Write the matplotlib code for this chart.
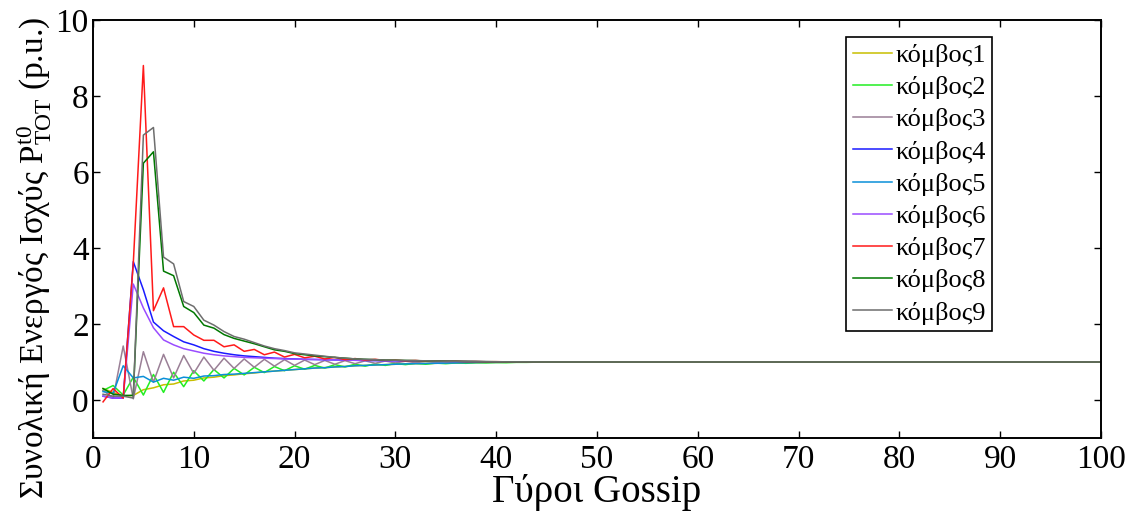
import matplotlib
matplotlib.use("Agg")
import matplotlib.pyplot as plt

plt.rcParams['font.family'] = ['Liberation Serif', 'DejaVu Serif']
plt.rcParams['mathtext.fontset'] = 'custom'
plt.rcParams['mathtext.rm'] = 'Liberation Serif'
plt.rcParams['mathtext.it'] = 'Liberation Serif'

# gossip rounds 1..100; values for the first 45 rounds,
# after that every node sits at 1.0 p.u.
rounds = list(range(1, 101))
tail = [1.0] * 55

node1 = [0.30, 0.20, 0.10, 0.12, 0.27, 0.32, 0.40, 0.42, 0.50, 0.52,
         0.58, 0.60, 0.64, 0.66, 0.69, 0.71, 0.74, 0.76, 0.78, 0.80,
         0.82, 0.84, 0.85, 0.87, 0.88, 0.90, 0.91, 0.92, 0.93, 0.94,
         0.95, 0.955, 0.96, 0.965, 0.97, 0.975, 0.98, 0.985, 0.99, 0.99,
         0.993, 0.995, 0.997, 0.998, 1.0] + tail
node2 = [0.25, 0.38, 0.13, 0.60, 0.13, 0.67, 0.20, 0.73, 0.35, 0.77,
         0.50, 0.80, 0.58, 0.83, 0.66, 0.86, 0.72, 0.88, 0.77, 0.90,
         0.81, 0.91, 0.84, 0.93, 0.87, 0.94, 0.89, 0.95, 0.91, 0.96,
         0.93, 0.965, 0.94, 0.97, 0.955, 0.975, 0.965, 0.98, 0.975, 0.985,
         0.98, 0.99, 0.99, 0.995, 0.995] + tail
node3 = [0.25, 0.05, 1.42, 0.03, 1.27, 0.47, 1.20, 0.58, 1.17, 0.70,
         1.13, 0.78, 1.10, 0.83, 1.08, 0.86, 1.07, 0.89, 1.06, 0.91,
         1.05, 0.93, 1.04, 0.94, 1.035, 0.955, 1.03, 0.965, 1.025, 0.975,
         1.02, 0.98, 1.015, 0.985, 1.01, 0.99, 1.008, 0.993, 1.005, 0.995,
         1.003, 0.997, 1.002, 0.998, 1.0] + tail
node4 = [0.10, 0.05, 0.05, 3.64, 2.90, 2.05, 1.82, 1.67, 1.53, 1.45,
         1.35, 1.28, 1.23, 1.19, 1.16, 1.14, 1.12, 1.10, 1.09, 1.08,
         1.07, 1.065, 1.06, 1.055, 1.05, 1.045, 1.04, 1.037, 1.034, 1.03,
         1.027, 1.024, 1.021, 1.018, 1.015, 1.012, 1.01, 1.008, 1.006, 1.005,
         1.004, 1.003, 1.002, 1.001, 1.0] + tail
node5 = [0.22, 0.18, 0.90, 0.58, 0.62, 0.47, 0.57, 0.52, 0.60, 0.57,
         0.63, 0.64, 0.67, 0.68, 0.70, 0.72, 0.74, 0.76, 0.78, 0.80,
         0.82, 0.84, 0.85, 0.87, 0.88, 0.90, 0.91, 0.92, 0.93, 0.94,
         0.95, 0.955, 0.96, 0.965, 0.97, 0.975, 0.98, 0.985, 0.99, 0.99,
         0.993, 0.995, 0.997, 0.998, 1.0] + tail
node6 = [0.10, 0.05, 0.05, 3.05, 2.42, 1.90, 1.58, 1.45, 1.35, 1.29,
         1.23, 1.19, 1.16, 1.14, 1.12, 1.11, 1.10, 1.09, 1.08, 1.075,
         1.07, 1.065, 1.06, 1.055, 1.05, 1.045, 1.04, 1.037, 1.034, 1.03,
         1.027, 1.024, 1.021, 1.018, 1.015, 1.012, 1.01, 1.008, 1.006, 1.005,
         1.004, 1.003, 1.002, 1.001, 1.0] + tail
node7 = [-0.05, 0.30, 0.05, 3.60, 8.80, 2.35, 2.95, 1.93, 1.93, 1.71,
         1.57, 1.57, 1.40, 1.45, 1.28, 1.33, 1.19, 1.26, 1.13, 1.20,
         1.11, 1.15, 1.08, 1.12, 1.06, 1.09, 1.05, 1.07, 1.04, 1.05,
         1.03, 1.04, 1.02, 1.03, 1.015, 1.02, 1.01, 1.012, 1.006, 1.008,
         1.004, 1.005, 1.002, 1.002, 1.0] + tail
node8 = [0.30, 0.15, 0.12, 0.12, 6.23, 6.53, 3.39, 3.27, 2.46, 2.30,
         1.97, 1.89, 1.72, 1.62, 1.55, 1.48, 1.40, 1.32, 1.28, 1.22,
         1.19, 1.16, 1.14, 1.12, 1.10, 1.08, 1.07, 1.06, 1.05, 1.045,
         1.04, 1.035, 1.03, 1.025, 1.02, 1.017, 1.014, 1.011, 1.008, 1.006,
         1.004, 1.003, 1.002, 1.001, 1.0] + tail
node9 = [0.15, 0.10, 0.10, 0.05, 6.97, 7.17, 3.76, 3.58, 2.59, 2.46,
         2.10, 1.97, 1.80, 1.67, 1.60, 1.51, 1.42, 1.35, 1.30, 1.24,
         1.21, 1.18, 1.15, 1.12, 1.10, 1.08, 1.07, 1.06, 1.05, 1.045,
         1.04, 1.035, 1.03, 1.025, 1.02, 1.017, 1.014, 1.011, 1.008, 1.006,
         1.004, 1.003, 1.002, 1.001, 1.0] + tail

series = [node1, node2, node3, node4, node5, node6, node7, node8, node9]
labels = ['κόμβος1', 'κόμβος2', 'κόμβος3', 'κόμβος4', 'κόμβος5',
          'κόμβος6', 'κόμβος7', 'κόμβος8', 'κόμβος9']
colors = ['#c8be00', '#22ee22', '#9a7f96', '#1a1aff', '#0a8fd8',
          '#9a4cff', '#ff1a1a', '#007800', '#6e6e6e']

fig = plt.figure(figsize=(11.31, 5.11), dpi=100)
ax = fig.add_axes([0.0822, 0.1429, 0.8913, 0.8181])

for vals, lab, col in zip(series, labels, colors):
    ax.plot(rounds, vals, color=col, lw=1.1, label=lab)

ax.set_xlim(0, 100)
ax.set_ylim(-1, 10)
ax.set_xticks(range(0, 101, 10))
ax.set_yticks(range(0, 11, 2))
ax.tick_params(direction='in', length=5, width=1, top=True, right=True,
               labelsize=24)
ax.tick_params(axis='x', pad=5)
ax.tick_params(axis='y', pad=3)
for sp in ax.spines.values():
    sp.set_linewidth(1.4)

ax.set_xlabel('Γύροι Gossip', fontsize=28)
ax.xaxis.set_label_coords(0.5, -0.085)
ax.set_ylabel(r'Συνολική Ενεργός Ισχύς $\mathrm{P_{TOT}^{t0}}$ (p.u.)',
              fontsize=24, va='center')
ax.yaxis.set_label_coords(-0.058, 0.43)

leg = ax.legend(loc='upper right', bbox_to_anchor=(0.892, 0.959),
                borderaxespad=0, fontsize=19, handlelength=1.5,
                handletextpad=0.1, labelspacing=0.33, borderpad=0.25,
                fancybox=False, framealpha=1, edgecolor='black')
leg.get_frame().set_linewidth(1.2)

fig.savefig('out.png', dpi=100)
